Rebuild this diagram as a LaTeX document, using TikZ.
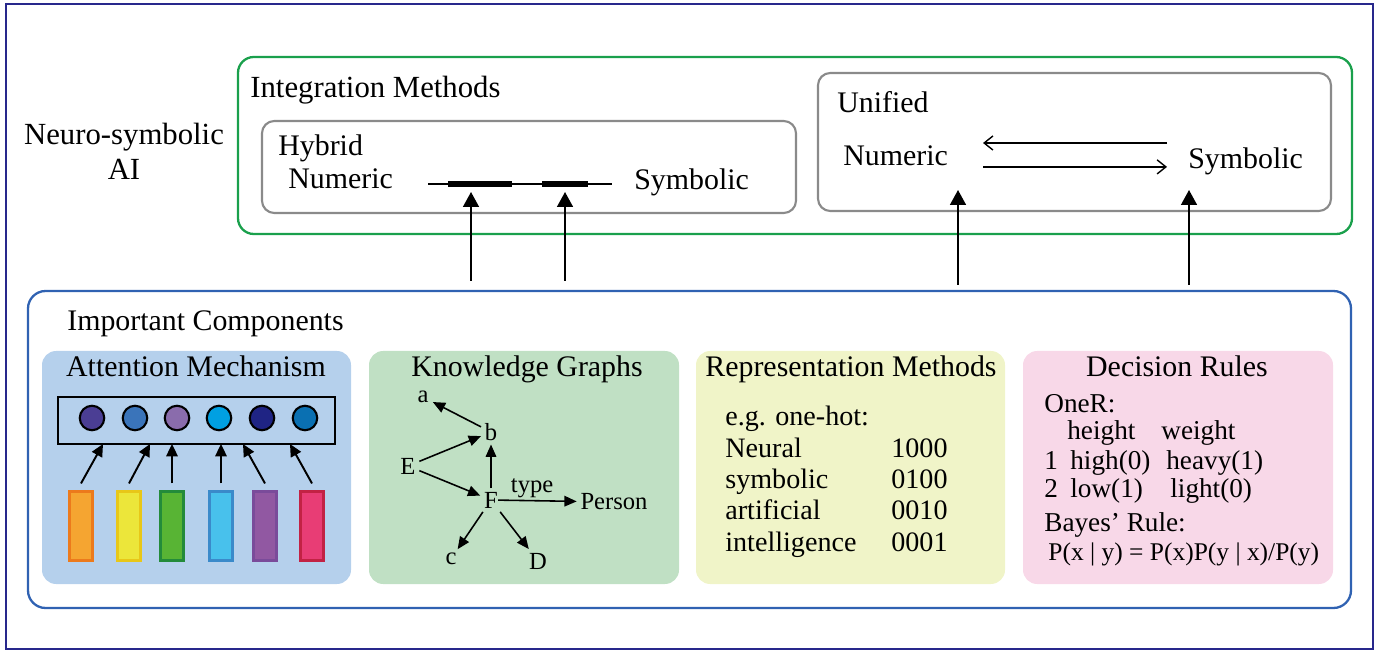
\documentclass[tikz,border=0pt]{standalone}
\usepackage{fontspec}
\setmainfont{Liberation Serif}
\usepackage{xcolor}
\usepackage{tikz}
\usetikzlibrary{arrows.meta, positioning, fit}
\definecolor{navyframe}{HTML}{28288C}
\definecolor{intgreen}{HTML}{1AA04C}
\definecolor{boxgray}{HTML}{8A8A8A}
\definecolor{compblue}{HTML}{3062B2}
\definecolor{attfill}{HTML}{B5D0EC}
\definecolor{kgfill}{HTML}{C0E0C4}
\definecolor{repfill}{HTML}{F0F4C8}
\definecolor{decfill}{HTML}{F8D8E8}
\definecolor{dotA}{HTML}{4B3E94}
\definecolor{dotB}{HTML}{3A74BA}
\definecolor{dotC}{HTML}{8A6CAC}
\definecolor{dotD}{HTML}{00A0E2}
\definecolor{dotE}{HTML}{1F2484}
\definecolor{dotF}{HTML}{0A70B2}
\definecolor{tokA}{HTML}{F5A531}\definecolor{tokAd}{HTML}{EC7A1C}
\definecolor{tokB}{HTML}{ECE63A}\definecolor{tokBd}{HTML}{E8C718}
\definecolor{tokC}{HTML}{58B434}\definecolor{tokCd}{HTML}{238B3A}
\definecolor{tokD}{HTML}{48C1EC}\definecolor{tokDd}{HTML}{3A8ACA}
\definecolor{tokE}{HTML}{9158A2}\definecolor{tokEd}{HTML}{7A4B9A}
\definecolor{tokF}{HTML}{E83D75}\definecolor{tokFd}{HTML}{C22244}
\tikzstyle{txt} = [font=\fontsize{17}{20}\selectfont, inner sep=0pt]
\tikzstyle{smalltxt} = [font=\fontsize{16}{19}\selectfont, inner sep=0pt]
\tikzstyle{rulestxt} = [font=\fontsize{15.5}{18}\selectfont, inner sep=0pt]
\tikzstyle{kgnode} = [font=\fontsize{14}{16}\selectfont, inner sep=2pt]
\tikzstyle{groupbox} = [rectangle, rounded corners=9pt, line width=1.3pt, inner sep=0pt]
\tikzstyle{methodbox} = [rectangle, rounded corners=7pt, draw=boxgray, line width=1.2pt, inner sep=0pt]
\tikzstyle{panel} = [rectangle, rounded corners=8pt, inner sep=0pt]
\tikzstyle{barseg} = [rectangle, fill=black, inner sep=0pt]
\tikzstyle{dot} = [circle, draw=black, line width=1.2pt, minimum size=0.49cm, inner sep=0pt]
\tikzstyle{tok} = [rectangle, line width=1.2pt, minimum width=0.46cm, minimum height=1.38cm, inner sep=0pt]
\tikzstyle{arrow} = [line width=1.1pt, -{Triangle[width=9pt,length=8.5pt]}]
\tikzstyle{openarrow} = [line width=0.8pt, -{Straight Barb[length=5pt,width=8pt]}]
\tikzstyle{attarrow} = [line width=1.1pt, -{Triangle[width=6.5pt,length=7pt]}]
\tikzstyle{kgarrow} = [line width=0.9pt, -{Triangle[width=6pt,length=7pt]}]

\begin{document}
\begin{tikzpicture}[x=0.02cm, y=-0.02cm]
\useasboundingbox (0,0) rectangle (1389,651);

% Outer frame and side title
\draw [draw=navyframe, line width=1.2pt] (6,4) rectangle (1373,649);
\node (nsai) [txt, align=center, font=\fontsize{17.5}{20}\selectfont] at (124,151) {Neuro-symbolic\\AI};

% Integration methods
\node (integ) [groupbox, draw=intgreen, fit={(238,57) (1352,234)}] {};
\node (integtitle) [txt, anchor=base west, font=\fontsize{17.5}{20}\selectfont] at (250,98) {Integration Methods};

\node (hybrid) [methodbox, fit={(262,121) (796,213)}] {};
\node (hybtitle) [txt, anchor=base west] at (278,156) {Hybrid};
\node (hybnum) [txt, anchor=base west] at (288,189) {Numeric};
\node (hybsym) [txt, anchor=base west] at (634,190) {Symbolic};
\coordinate (barL) at (428,184);
\coordinate (barR) at (612,184);
\draw [line width=1.2pt] (barL) -- (barR);
\node (seg1) [barseg, fit={(448,181) (512,187)}] {};
\node (seg2) [barseg, fit={(542,181) (588,187)}] {};

\node (unified) [methodbox, fit={(818,73) (1331,211)}] {};
\node (unititle) [txt, anchor=base west] at (837,113) {Unified};
\node (uninum) [txt, anchor=base west] at (843,166) {Numeric};
\node (unisym) [txt, anchor=base west] at (1188,169) {Symbolic};
\coordinate (loopL) at (983,143);
\coordinate (loopR) at (1167,143);
\draw [openarrow] (loopR) -- (loopL);
\draw [openarrow] ([yshift=-13.6pt]loopL) -- ([yshift=-13.6pt]loopR);

% Links from components to methods
\coordinate (h1) at (471,192);
\coordinate (h2) at (565,192);
\coordinate (u1) at (958,190);
\coordinate (u2) at (1189,190);
\draw [arrow] (471,281) -- (h1);
\draw [arrow] (565,281) -- (h2);
\draw [arrow] (958,285) -- (u1);
\draw [arrow] (1189,285) -- (u2);

% Important components
\node (comp) [groupbox, draw=compblue, rounded corners=10pt, fit={(28,291) (1351,608)}] {};
\node (comptitle) [txt, anchor=base west] at (67,331) {Important Components};

\node (att) [panel, fill=attfill, fit={(42,351) (351,584)}] {};
\node (kg) [panel, fill=kgfill, fit={(369,351) (679,584)}] {};
\node (rep) [panel, fill=repfill, fit={(696,351) (1005,584)}] {};
\node (dec) [panel, fill=decfill, fit={(1023,351) (1333,584)}] {};

% Attention mechanism
\node (atttitle) [txt, anchor=base] at (196,377) {Attention Mechanism};
\node (attbox) [draw, line width=1.2pt, inner sep=0pt, fit={(58,397) (335,444)}] {};
\foreach \x/\c [count=\i] in {92/dotA, 135/dotB, 177/dotC, 219/dotD, 262/dotE, 305/dotF}
  \node (dot\i) [dot, fill=\c] at (\x,418) {};
\foreach \x/\c [count=\i] in {81/tokA, 129/tokB, 172/tokC, 221/tokD, 265/tokE, 312/tokF}
  \node (tok\i) [tok, fill=\c, draw=\c d] at (\x,526) {};
\foreach \i/\t in {1/103, 2/150, 3/172, 4/221, 5/243, 6/290}
  \draw [attarrow] ([yshift=4pt]tok\i.north) -- (\t,444);

% Knowledge graphs
\node (kgtitle) [txt, anchor=base] at (527,377) {Knowledge Graphs};
\node (ka) [kgnode, inner sep=0.5pt] at (423,397) {a};
\node (kb) [kgnode] at (491,432) {b};
\node (kE) [kgnode] at (408,466) {E};
\node (kF) [kgnode] at (491,500) {F};
\node (kperson) [kgnode] at (614,502) {Person};
\node (kc) [kgnode] at (451,559) {c};
\node (kD) [kgnode] at (538,561) {D};
\draw [kgarrow, shorten >=2pt] (kb) -- (ka);
\draw [kgarrow] (kE) -- (kb);
\draw [kgarrow] (kE) -- (kF);
\draw [kgarrow] (kF) -- (kb);
\draw [kgarrow, shorten <=-2pt] (kF) -- node[kgnode, above, inner sep=1pt, xshift=-4pt] {type} (kperson);
\draw [kgarrow] (kF) -- (kc);
\draw [kgarrow] (kF) -- (kD);

% Representation methods
\node (reptitle) [txt, anchor=base] at (851,377) {Representation Methods};
\node (onehot) [smalltxt, anchor=base west] at (725,426) {e.g. one-hot:};
\foreach \w/\n/\y [count=\i] in {Neural/1000/458, symbolic/0100/489, artificial/0010/520, intelligence/0001/551} {
  \node (word\i) [smalltxt, anchor=base west] at (725,\y) {\w};
  \node (code\i) [smalltxt, anchor=base west] at (891,\y) {\n};
}

% Decision rules
\node (dectitle) [txt, anchor=base] at (1177,377) {Decision Rules};
\node (oner) [rulestxt, anchor=base west] at (1044,413) {OneR:};
\node (colh) [rulestxt, anchor=base west] at (1067,440) {height};
\node (colw) [rulestxt, anchor=base west] at (1161,440) {weight};
\node (row1) [rulestxt, anchor=base west] at (1044,470) {1};
\node (high) [rulestxt, anchor=base west] at (1070,470) {high(0)};
\node (heavy) [rulestxt, anchor=base west] at (1166,470) {heavy(1)};
\node (row2) [rulestxt, anchor=base west] at (1044,498) {2};
\node (low) [rulestxt, anchor=base west] at (1070,498) {low(1)};
\node (light) [rulestxt, anchor=base west] at (1170,498) {light(0)};
\node (bayes) [rulestxt, anchor=base west] at (1044,531) {Bayes’ Rule:};
\node (bayesf) [rulestxt, anchor=base west, font=\fontsize{14.5}{17}\selectfont] at (1048,561) {P(x | y) = P(x)P(y | x)/P(y)};

\end{tikzpicture}
\end{document}
